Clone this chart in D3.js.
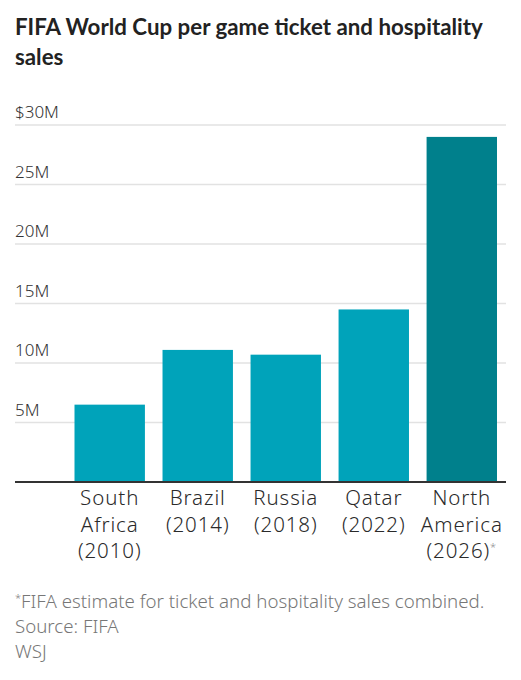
<!DOCTYPE html>
<html>
<head>
<meta charset="utf-8">
<script src="https://cdn.jsdelivr.net/npm/d3@7"></script>
<style>
  body { margin: 0; background: #fff; }
  svg text { font-family: "Noto Sans", "Open Sans", sans-serif; }
  svg text.title { font-family: Lato, "Noto Sans", sans-serif; }
</style>
</head>
<body>
<svg id="chart" width="521" height="680"></svg>
<script>
// tournaments, as printed under each bar
const hosts = ["South Africa", "Brazil", "Russia", "Qatar", "North America"];
const years = ["2010", "2014", "2018", "2022", "2026"];
// per game sales, millions of dollars
const sales = [6.5, 11.1, 10.7, 14.5, 29.0];
const estimated = [false, false, false, false, true];
const yTicks = [5, 10, 15, 20, 25, 30];

const svg = d3.select("#chart");

const plot = { left: 15, right: 506, top: 125, bottom: 482, barLeft: 74.5, barRight: 497 };

const x = d3.scaleBand()
  .domain(hosts)
  .range([plot.barLeft, plot.barRight])
  .paddingInner(0.2)
  .paddingOuter(0);

const y = d3.scaleLinear()
  .domain([0, 30])
  .range([plot.bottom, plot.top]);

// title
svg.append("text")
  .attr("class", "title")
  .attr("x", 15)
  .attr("y", 35)
  .attr("font-size", 22.3)
  .attr("font-weight", 700)
  .attr("fill", "#222")
  .selectAll("tspan")
  .data(["FIFA World Cup per game ticket and hospitality", "sales"])
  .join("tspan")
  .attr("x", 15)
  .attr("dy", (d, i) => i ? 30 : 0)
  .text(d => d);

// gridlines and tick labels
const grid = svg.append("g")
  .selectAll("g")
  .data(yTicks)
  .join("g")
  .attr("transform", d => `translate(0,${y(d)})`);

grid.append("line")
  .attr("x1", plot.left)
  .attr("x2", plot.right)
  .attr("stroke", "#e2e2e2")
  .attr("stroke-width", 1.5);

grid.append("text")
  .attr("x", plot.left)
  .attr("y", -7)
  .attr("font-size", 17)
  .attr("font-weight", 300)
  .attr("fill", "#333")
  .text(d => (d === 30 ? "$" : "") + d + "M");

// bars
svg.append("g")
  .selectAll("rect")
  .data(hosts)
  .join("rect")
  .attr("x", d => x(d))
  .attr("width", x.bandwidth())
  .attr("y", (d, i) => y(sales[i]))
  .attr("height", (d, i) => y(0) - y(sales[i]))
  .attr("fill", (d, i) => estimated[i] ? "#00808c" : "#00a3ba");

// baseline
svg.append("line")
  .attr("x1", plot.left)
  .attr("x2", plot.right)
  .attr("y1", y(0))
  .attr("y2", y(0))
  .attr("stroke", "#333")
  .attr("stroke-width", 2);

// category labels
const labels = svg.append("g")
  .selectAll("text")
  .data(hosts)
  .join("text")
  .attr("text-anchor", "middle")
  .attr("font-size", 20.5)
  .attr("font-weight", 300)
  .attr("letter-spacing", 0.9)
  .attr("fill", "#2a2a2a")
  .attr("transform", d => `translate(${x(d) + x.bandwidth() / 2},${y(0) + 23})`);

labels.each(function(d, i) {
  const lines = d.split(" ");
  lines.push("(" + years[i] + ")");
  const t = d3.select(this);
  lines.forEach((l, j) => {
    const ts = t.append("tspan").attr("x", 0).attr("y", j * 26.5).text(l);
    if (j === lines.length - 1 && estimated[i]) {
      ts.append("tspan").attr("font-size", 11).attr("dy", -7).attr("fill", "#888").text("*");
    }
  });
});

// notes
const notes = ["FIFA estimate for ticket and hospitality sales combined.", "Source: FIFA", "WSJ"];
const noteText = svg.append("g")
  .selectAll("text")
  .data(notes)
  .join("text")
  .attr("x", 15)
  .attr("y", (d, i) => 608 + i * 25)
  .attr("font-size", 18.7)
  .attr("font-weight", 300)
  .attr("fill", "#777");

noteText.filter((d, i) => i === 0)
  .append("tspan")
  .attr("font-size", 11)
  .attr("dy", -6)
  .text("*");

noteText.append("tspan")
  .attr("dy", (d, i) => i === 0 ? 6 : 0)
  .text(d => d);
</script>
</body>
</html>
